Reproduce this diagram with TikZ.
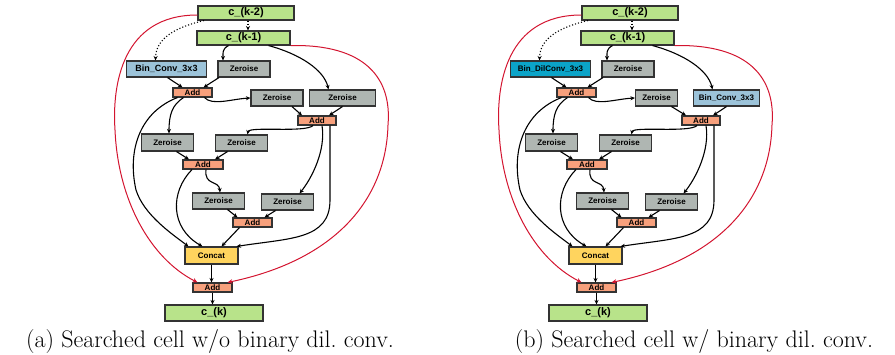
\documentclass[tikz,border=0pt]{standalone}
\usepackage{fontspec}
\newfontfamily\labelfont{Liberation Sans}
\usetikzlibrary{arrows.meta}

\definecolor{cellgreen}{HTML}{B8E38A}
\definecolor{zerogray}{HTML}{AFB6B2}
\definecolor{convblue}{HTML}{9CC3D9}
\definecolor{dilblue}{HTML}{0BA4C8}
\definecolor{addorange}{HTML}{F7A07C}
\definecolor{concatyellow}{HTML}{FFD45E}
\definecolor{skipred}{HTML}{D3142F}
\definecolor{boxedge}{HTML}{333333}

\tikzset{
  op/.style={draw=boxedge, line width=1.1pt, rectangle, inner sep=0pt,
    font=\labelfont\bfseries\fontsize{8}{9}\selectfont},
  state/.style={op, fill=cellgreen, minimum height=14pt,
    font=\labelfont\bfseries\fontsize{11}{12}\selectfont},
  zero/.style={op, fill=zerogray, minimum width=52pt, minimum height=16pt},
  convA/.style={op, fill=convblue, minimum width=80.5pt, minimum height=16pt,
    font=\labelfont\bfseries\fontsize{9}{10}\selectfont},
  convB/.style={op, fill=convblue, minimum width=65.5pt, minimum height=16pt},
  dilconv/.style={op, fill=dilblue, minimum width=80.5pt, minimum height=16pt},
  zeroW/.style={op, fill=zerogray, minimum width=65.5pt, minimum height=16pt},
  addop/.style={op, fill=addorange, minimum width=39pt, minimum height=9pt},
  concatop/.style={op, fill=concatyellow, minimum width=53pt, minimum height=17pt},
  link/.style={line width=1.1pt, -{Stealth[length=4.5pt,width=4pt]}},
  prelink/.style={link, dotted},
  skip/.style={line width=1pt, draw=skipred, -{Stealth[length=5pt,width=4.5pt]}},
  caption/.style={font=\fontsize{24}{28}\selectfont, anchor=base, inner sep=0pt}
}

% one searched cell:
% #1 name prefix, #2 x shift, #3 first op label, #4 first op style,
% #5 x of the middle Zeroise, #6 its width, #7 right op label, #8 right op style
\newcommand\drawcell[8]{%
\begin{scope}[xshift=#2pt, name prefix=#1-]
  \node[state, minimum width=96pt] (k2) at (246,13) {c\_(k-2)};
  \node[state, minimum width=93pt] (k1) at (243.5,38) {c\_(k-1)};
  \node[#4] (conv) at (166.5,69) {#3};
  \node[zero] (z0) at (244,69) {Zeroise};
  \node[addop] (add1) at (192.5,92.5) {Add};
  \node[zero, minimum width=#6pt] (z1) at (#5,98) {Zeroise};
  \node[#8] (z2) at (342.5,98) {#7};
  \node[addop, minimum width=38pt] (add2) at (317,120.5) {Add};
  \node[zero, minimum height=17pt] (z3) at (167.5,142.5) {Zeroise};
  \node[zero] (z4) at (241.5,143) {Zeroise};
  \node[addop, minimum width=40pt] (add3) at (203,164.5) {Add};
  \node[zero] (z5) at (218.5,201) {Zeroise};
  \node[zero] (z6) at (287.5,202) {Zeroise};
  \node[addop] (add4) at (252.5,222.5) {Add};
  \node[concatop] (concat) at (211.5,255.5) {Concat};
  \node[addop] (add5) at (212.5,287.5) {Add};
  \node[state, minimum width=98pt, minimum height=16pt] (ck) at (214,313) {c\_(k)};

  % inputs
  \draw[prelink] ([xshift=2pt]k2.south) -- ([xshift=4.5pt]k1.north);
  \draw[prelink] ([xshift=-42pt]k2.south) .. controls (172,28) and (156,40) .. ([xshift=-11pt]conv.north);
  \draw[link] ([xshift=-15pt]k1.south) .. controls (222,49) and (223,53) .. ([xshift=-21pt]z0.north);
  \draw[link] ([xshift=25pt]k1.south) .. controls (300,54) and (324,70) .. ([xshift=-14pt]z2.north);

  % node 1
  \draw[link] ([xshift=1pt]conv.south) -- ([xshift=-10pt]add1.north);
  \draw[link] ([xshift=-25pt]z0.south) -- ([xshift=11pt]add1.north);
  \draw[link] ([xshift=12pt]add1.south) .. controls (212,106) and (232,99) .. (z1.west);
  \draw[link] ([xshift=-9pt]add1.south) .. controls (172,105) and (169,115) .. ([xshift=1.5pt]z3.north);
  \draw[link] ([xshift=-15pt]add1.south) .. controls (140,112) and (127,150) .. (136,190)
     .. controls (144,215) and (172,234) .. ([xshift=-23pt]concat.north);

  % node 2
  \draw[link] ([xshift=15pt]z1.south) -- ([xshift=-15pt]add2.north);
  \draw[link] (z2.south) -- ([xshift=12pt]add2.north);
  \draw[link] ([xshift=-4pt]add2.south) .. controls (305,133) and (249,126) .. ([xshift=6pt]z4.north);
  \draw[link] ([xshift=5pt]add2.south) .. controls (326,150) and (312,178) .. ([xshift=12pt]z6.north);
  \draw[link] ([xshift=13pt]add2.south) -- (330,200) .. controls (330,240) and (290,238) .. ([xshift=25pt]concat.north);

  % node 3
  \draw[link] ([xshift=9pt]z3.south) -- ([xshift=-14pt]add3.north);
  \draw[link] ([xshift=-14pt]z4.south) -- ([xshift=12pt]add3.north);
  \draw[link] ([xshift=3pt]add3.south) .. controls (204,186) and (219,180) .. ([xshift=1.5pt]z5.north);
  \draw[link] ([xshift=-11pt]add3.south) .. controls (170,192) and (170,228) .. ([xshift=-9pt]concat.north);

  % node 4
  \draw[link] ([xshift=9pt]z5.south) -- ([xshift=-15pt]add4.north);
  \draw[link] ([xshift=-12pt]z6.south) -- ([xshift=12pt]add4.north);
  \draw[link] ([xshift=-13pt]add4.south) -- ([xshift=10pt]concat.north);

  % output
  \draw[link] (concat.south) -- (concat.south |- add5.north);
  \draw[link] (add5.south) -- (add5.south |- ck.north);

  % residual connections
  \draw[skip] ([yshift=-2pt]k2.west) .. controls (122,15) and (112,85) .. (115,130)
     .. controls (118,200) and (150,258) .. ([xshift=-15pt]add5.north);
  \draw[skip] (k1.south east) .. controls (365,44) and (392,78) .. (388,125)
     .. controls (386,200) and (335,260) .. ([xshift=15pt]add5.north);
\end{scope}}

\begin{document}
\begin{tikzpicture}[x=1pt, y=-1pt]
  \useasboundingbox (0,0) rectangle (895,354);

  \drawcell{a}{0}{Bin\_Conv\_3x3}{convA}{277}{52}{Zeroise}{zeroW}
  \drawcell{b}{384}{Bin\_DilConv\_3x3}{dilconv}{272.5}{42}{Bin\_Conv\_3x3}{convB}

  \node[caption] (capa) at (210,347) {(a) Searched cell w/o binary dil.\ conv.};
  \node[caption] (capb) at (694,347) {(b) Searched cell w/ binary dil.\ conv.};
\end{tikzpicture}
\end{document}
